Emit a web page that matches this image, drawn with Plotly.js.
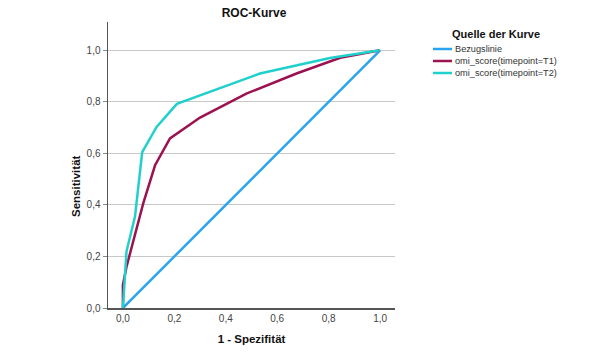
<!DOCTYPE html>
<html>
<head>
<meta charset="utf-8">
<script src="https://cdn.plot.ly/plotly-3.0.1.min.js"></script>
<style>html,body{margin:0;padding:0;background:#fff;}#chart{width:605px;height:356px;}</style>
</head>
<body>
<div id="chart"></div>
<script>
// Reference line
var refX = [0, 1];
var refY = [0, 1];
// omi_score(timepoint=T1)
var t1X = [0, 0, 0.014, 0.079, 0.125, 0.183, 0.30, 0.48, 0.675, 0.845, 1];
var t1Y = [0, 0.09, 0.16, 0.406, 0.554, 0.658, 0.739, 0.832, 0.91, 0.971, 1];
// omi_score(timepoint=T2)
var t2X = [0, 0.014, 0.047, 0.075, 0.131, 0.21, 0.533, 0.805, 1];
var t2Y = [0, 0.22, 0.355, 0.605, 0.703, 0.792, 0.91, 0.97, 1];
var seriesNames = ['Bezugslinie', 'omi_score(timepoint=T1)', 'omi_score(timepoint=T2)'];
var seriesColors = ['#2AA4F0', '#9C1250', '#20D0CC'];
var tickVals = [0, 0.2, 0.4, 0.6, 0.8, 1.0];

var font = 'Liberation Sans, Arial, sans-serif';
var xs = [refX, t1X, t2X], ys = [refY, t1Y, t2Y];
var traces = xs.map(function (x, i) {
  return {x: x, y: ys[i], name: seriesNames[i], mode: 'lines',
          line: {color: seriesColors[i], width: 2.5}, showlegend: false};
});

// legend and y title drawn in paper coordinates
var M = {l: 108, r: 210, t: 22, b: 48};
var pw = 605 - M.l - M.r, ph = 356 - M.t - M.b;
function px(x) { return (x - M.l) / pw; }
function py(y) { return (356 - M.b - y) / ph; }
var shapes = [], annotations = [];
annotations.push({xref: 'paper', yref: 'paper', x: px(450), y: py(34), xanchor: 'left', yanchor: 'middle',
  text: '<b>Quelle der Kurve</b>', showarrow: false, font: {family: font, size: 11, color: '#111'}});
seriesNames.forEach(function (n, i) {
  var yy = 49 + i * 12;
  shapes.push({type: 'line', xref: 'paper', yref: 'paper', x0: px(433), x1: px(452), y0: py(yy), y1: py(yy),
    line: {color: seriesColors[i], width: 2.5}});
  annotations.push({xref: 'paper', yref: 'paper', x: px(453), y: py(yy), xanchor: 'left', yanchor: 'middle',
    text: n, showarrow: false, font: {family: font, size: 9.2, color: '#333'}});
});
annotations.push({xref: 'paper', yref: 'paper', x: px(76), y: py(186), xanchor: 'center', yanchor: 'middle',
  textangle: -90, text: '<b>Sensitivität</b>', showarrow: false, font: {family: font, size: 11.5, color: '#111'}});

var layout = {
  width: 605, height: 356,
  margin: M,
  paper_bgcolor: '#fff', plot_bgcolor: '#fff',
  separators: ', ',
  font: {family: font, size: 10, color: '#333'},
  title: {text: '<b>ROC-Kurve</b>', font: {family: font, size: 12, color: '#111'}, x: px(254), xanchor: 'center', xref: 'paper', y: 0.965, yanchor: 'middle'},
  showlegend: false,
  shapes: shapes,
  annotations: annotations,
  xaxis: {
    range: [-0.058, 1.058], tickvals: tickVals, tickformat: '.1f',
    showgrid: false, zeroline: false, showline: true, linecolor: '#555', linewidth: 1.5,
    ticks: '', tickfont: {family: font, size: 10, color: '#444'},
    title: {text: '<b>1 - Spezifität</b>', font: {family: font, size: 11.5, color: '#111'}, standoff: 12},
    fixedrange: true
  },
  yaxis: {
    range: [0, 1.11], tickvals: tickVals, tickformat: '.1f',
    showgrid: true, gridcolor: '#c8c8c8', gridwidth: 1, zeroline: false,
    showline: true, linecolor: '#555', linewidth: 1.5,
    ticks: 'outside', ticklen: 4, tickcolor: '#888',
    tickfont: {family: font, size: 10, color: '#444'},
    fixedrange: true
  }
};
Plotly.newPlot('chart', traces, layout, {displayModeBar: false, staticPlot: true});
</script>
</body>
</html>
